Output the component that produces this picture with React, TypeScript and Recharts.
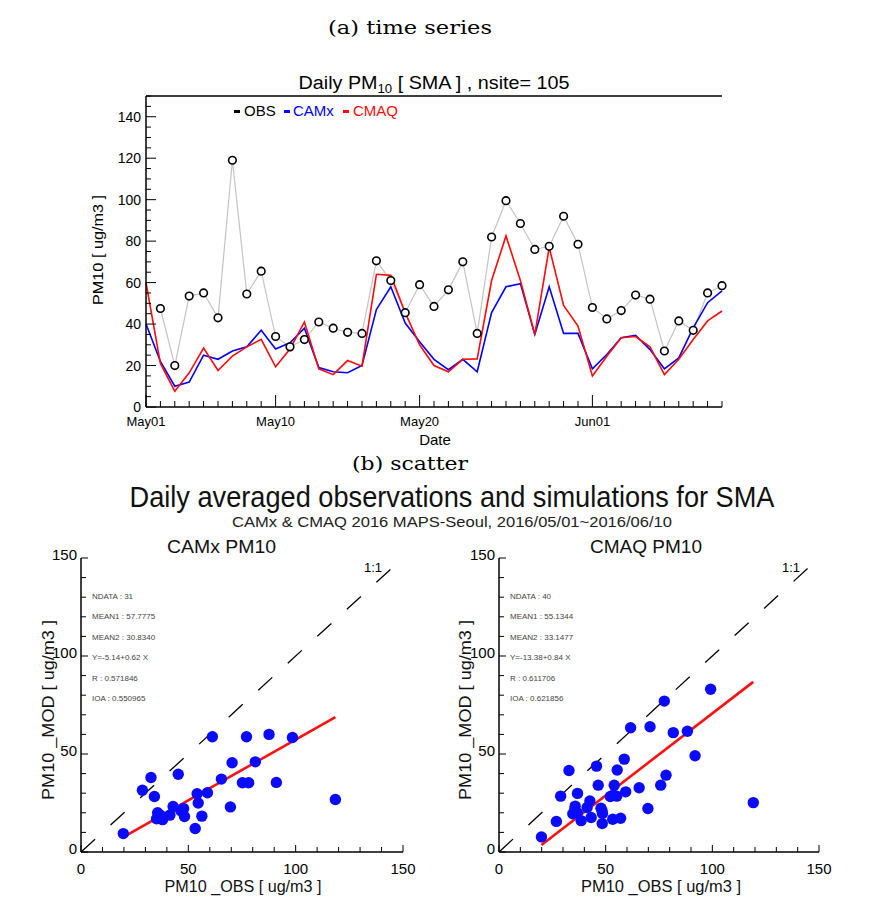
import React from 'react';
import {
  LineChart,
  Line,
  ComposedChart,
  Scatter,
  XAxis,
  YAxis,
  ReferenceLine,
} from 'recharts';

// daily PM10 (ug/m3), SMA mean of 105 sites, 2016-05-01 .. 2016-06-10
const dates = [
  'May01', 'May02', 'May03', 'May04', 'May05', 'May06', 'May07', 'May08', 'May09', 'May10',
  'May11', 'May12', 'May13', 'May14', 'May15', 'May16', 'May17', 'May18', 'May19', 'May20',
  'May21', 'May22', 'May23', 'May24', 'May25', 'May26', 'May27', 'May28', 'May29', 'May30',
  'May31', 'Jun01', 'Jun02', 'Jun03', 'Jun04', 'Jun05', 'Jun06', 'Jun07', 'Jun08', 'Jun09',
  'Jun10',
];
const majorDates = ['May01', 'May10', 'May20', 'Jun01'];

const obs = [
  null, 47.5, 20, 53.5, 55, 43, 119, 54.5, 65.5, 34, 29, 32.5, 41, 38, 36, 35.5, 70.5, 61,
  45.5, 59, 48.5, 56.5, 70, 35.5, 82, 99.5, 88.5, 76, 77.5, 92, 78.5, 48, 42.5, 46.5, 54, 52,
  27, 41.5, 37, 55, 58.5,
];
const camx = [
  40, 22, 10, 12, 25, 23, 27, 29, 37, 28, 31, 38, 19, 17, 16.5, 20, 47, 58, 40.5, 31.5, 23,
  18, 23, 17, 45.5, 58, 59.5, 35, 58, 35.5, 35.5, 18.4, 25.3, 33.4, 34.5, 27.7, 18.4, 23.7,
  38.2, 50.3, 56,
];
const cmaq = [
  60, 21, 7.6, 16.5, 28.4, 17.6, 24.5, 29, 32.6, 19.4, 28, 41, 18.4, 15.6, 22.4, 19.7, 64,
  63.5, 45.5, 30, 20, 17, 23, 23.2, 61, 82.5, 61, 35, 77, 49, 39, 15, 24.5, 33.4, 34, 29,
  15.6, 23, 32.6, 41.5, 46.3,
];
const tsTicks = [
  0, 5, 10, 15, 20, 25, 30, 35, 40, 45, 50, 55, 60, 65, 70, 75, 80, 85, 90, 95, 100, 105,
  110, 115, 120, 125, 130, 135, 140, 145, 150,
];

// scatter pairs [OBS, MOD]
const camxPairs = [
  [19.7, 9.4], [28.6, 31.5], [32.6, 38], [34.2, 28.3], [35.7, 20], [35.2, 17], [36.9, 18.8],
  [38, 16.5], [41.4, 18.8], [42.9, 23.2], [45.3, 39.7], [46.5, 21], [47.8, 22.2], [48.2, 18.1],
  [53.2, 12], [54.1, 29.7], [54.6, 25], [56.3, 18.3], [58.9, 30.2], [61.2, 58.8], [65.4, 37.2],
  [69.6, 23], [70.4, 45.5], [75.2, 35.3], [77.1, 58.8], [78.1, 35.3], [81.2, 46], [87.6, 60],
  [91, 35.5], [98.5, 58.4], [118.5, 26.8],
];
const cmaqPairs = [
  [19.9, 7.7], [26.9, 15.6], [28.9, 28.5], [32.8, 41.6], [34.6, 19.5], [35.5, 21.5], [35.7, 23.4],
  [36.7, 20], [36.8, 29.9], [38.5, 16], [41.3, 22.7], [42.6, 26], [43.2, 17.6], [45.7, 43.8],
  [46.5, 34.1], [47.8, 22.3], [48.3, 21], [48.5, 19.6], [48.4, 14.5], [52.2, 28.3], [53.3, 16.7],
  [53.8, 29], [54, 34.1], [55.2, 28.5], [55.4, 41.8], [57, 17.2], [58.7, 47.4], [59.4, 30.7],
  [61.7, 63.4], [65.7, 32.8], [69.8, 22.2], [70.8, 63.9], [75.8, 34.1], [77.5, 77], [78.3, 39.2],
  [81.7, 60.9], [88.3, 61.6], [91.9, 49.1], [99.2, 83], [119.2, 25.2],
];
const camxFit = [[19.7, 7.6], [118.5, 68.8]];
const cmaqFit = [[19.9, 3.6], [119.2, 86.8]];
const scTicks = [0, 10, 20, 30, 40, 50, 60, 70, 80, 90, 100, 110, 120, 130, 140, 150];

const camxStats = ['NDATA : 31', 'MEAN1 : 57.7775', 'MEAN2 : 30.8340', 'Y=-5.14+0.62 X', 'R : 0.571846', 'IOA : 0.550965'];
const cmaqStats = ['NDATA : 40', 'MEAN1 : 55.1344', 'MEAN2 : 33.1477', 'Y=-13.38+0.84 X', 'R : 0.611706', 'IOA : 0.621856'];

const tsData = dates.map((d, i) => ({ date: d, obs: obs[i], camx: camx[i], cmaq: cmaq[i] }));
const toXY = (a: number[][]) => a.map(([x, y]) => ({ x, y }));

const SANS = '"Liberation Sans", Arial, sans-serif';

// ---- tick renderers (ticks point into the plot, like IDL) ----
const TsBottomTick = (p: any) => {
  const major = majorDates.includes(p.payload.value);
  return (
    <g>
      <line x1={p.x} x2={p.x} y1={p.y} y2={p.y - (major ? 12 : 6)} stroke="#000" />
      {major && (
        <text x={p.x} y={p.y + 19} textAnchor="middle" fontSize={13} fill="#000">
          {p.payload.value}
        </text>
      )}
    </g>
  );
};
const TsLeftTick = (p: any) => {
  const v = p.payload.value;
  const major = v % 20 === 0;
  return (
    <g>
      <line x1={p.x} x2={p.x + (major ? 10 : 5)} y1={p.y} y2={p.y} stroke="#000" />
      {major && v <= 140 && (
        <text x={p.x - 5} y={p.y + 5} textAnchor="end" fontSize={14} fill="#000">
          {v}
        </text>
      )}
    </g>
  );
};
const TsRightTick = (p: any) => {
  const major = p.payload.value % 20 === 0;
  return <line x1={p.x} x2={p.x - (major ? 10 : 5)} y1={p.y} y2={p.y} stroke="#000" />;
};

const ScBottomTick = (p: any) => {
  const v = p.payload.value;
  const major = v % 50 === 0;
  return (
    <g>
      <line x1={p.x} x2={p.x} y1={p.y} y2={p.y - (major ? 7 : 5)} stroke="#000" />
      {major && (
        <text x={p.x} y={p.y + 22} textAnchor="middle" fontSize={15} fill="#000">
          {v}
        </text>
      )}
    </g>
  );
};
const ScTopTick = (p: any) => {
  const major = p.payload.value % 50 === 0;
  return <line x1={p.x} x2={p.x} y1={p.y} y2={p.y + (major ? 7 : 5)} stroke="#000" />;
};
const ScLeftTick = (p: any) => {
  const v = p.payload.value;
  const major = v % 50 === 0;
  return (
    <g>
      <line x1={p.x} x2={p.x + (major ? 7 : 5)} y1={p.y} y2={p.y} stroke="#000" />
      {major && (
        <text x={p.x - 4} y={p.y + 2} textAnchor="end" fontSize={15} fill="#000">
          {v}
        </text>
      )}
    </g>
  );
};
const ScRightTick = (p: any) => {
  const major = p.payload.value % 50 === 0;
  return <line x1={p.x} x2={p.x - (major ? 7 : 5)} y1={p.y} y2={p.y} stroke="#000" />;
};

const ObsDot = (p: any) => {
  if (p.value == null) return <g key={p.key} />;
  return <circle key={p.key} cx={p.cx} cy={p.cy} r={3.8} fill="#fff" stroke="#000" strokeWidth={1.6} />;
};
const BlueDot = (p: any) => <circle cx={p.cx} cy={p.cy} r={5.7} fill="#0a0aff" />;

function ScatterPanel({ pairs, fit, ml, mr, plotW }: { pairs: number[][]; fit: number[][]; ml: number; mr: number; plotW: number }) {
  return (
    <ComposedChart
      width={ml + mr + 40 + plotW}
      height={370}
      margin={{ top: 18, right: mr, bottom: 28, left: ml }}
    >
      <XAxis
        dataKey="x"
        type="number"
        domain={[0, 150]}
        ticks={scTicks}
        interval={0}
        tickSize={0}
        tickMargin={0}
        tickLine={false}
        tick={ScBottomTick}
        axisLine={{ stroke: '#000', strokeWidth: 1.5 }}
        height={30}
      />
      <XAxis
        xAxisId="top"
        orientation="top"
        dataKey="x"
        type="number"
        domain={[0, 150]}
        ticks={scTicks}
        interval={0}
        tickSize={0}
        tickMargin={0}
        tickLine={false}
        tick={ScTopTick}
        axisLine={{ stroke: '#000', strokeWidth: 1.5 }}
        height={0}
      />
      <YAxis
        dataKey="y"
        type="number"
        domain={[0, 150]}
        ticks={scTicks}
        interval={0}
        tickSize={0}
        tickMargin={0}
        tickLine={false}
        tick={ScLeftTick}
        axisLine={{ stroke: '#000', strokeWidth: 1.5 }}
        width={40}
      />
      <YAxis
        yAxisId="right"
        orientation="right"
        type="number"
        domain={[0, 150]}
        ticks={scTicks}
        interval={0}
        tickSize={0}
        tickMargin={0}
        tickLine={false}
        tick={ScRightTick}
        axisLine={{ stroke: '#000', strokeWidth: 1.5 }}
        width={0}
      />
      <ReferenceLine
        segment={[{ x: 0, y: 0 }, { x: 150, y: 150 }]}
        stroke="#000"
        strokeWidth={1.3}
        strokeDasharray="19 21"
      />
      <Scatter data={toXY(pairs)} shape={BlueDot} isAnimationActive={false} />
      <Line
        data={toXY(fit)}
        dataKey="y"
        stroke="#ff1010"
        strokeWidth={2.6}
        dot={false}
        isAnimationActive={false}
      />
    </ComposedChart>
  );
}

export default function App() {
  return (
    <div style={{ position: 'absolute', left: 0, top: 0, width: 885, height: 910, background: '#fff', fontFamily: SANS }}>
      <div style={{ position: 'absolute', left: 0, top: 0 }}>
        <LineChart width={885} height={470} data={tsData} margin={{ top: 96, right: 163, bottom: 33, left: 96 }}>
          <XAxis
            dataKey="date"
            interval={0}
            tickSize={0}
            tickMargin={0}
            tickLine={false}
            tick={TsBottomTick}
            axisLine={{ stroke: '#000', strokeWidth: 1.5 }}
            height={30}
          />
          <YAxis
            type="number"
            domain={[0, 150]}
            ticks={tsTicks}
            interval={0}
            tickSize={0}
            tickMargin={0}
            tickLine={false}
            tick={TsLeftTick}
            axisLine={{ stroke: '#000', strokeWidth: 1.5 }}
            width={50}
          />
          <YAxis
            yAxisId="right"
            orientation="right"
            type="number"
            domain={[0, 150]}
            ticks={tsTicks}
            interval={0}
            tickSize={0}
            tickMargin={0}
            tickLine={false}
            tick={TsRightTick}
            axisLine={{ stroke: '#000', strokeWidth: 1.5 }}
            width={0}
          />
          <ReferenceLine y={150} stroke="#000" strokeWidth={1.5} />
          <Line dataKey="obs" stroke="#c4c4c4" strokeWidth={1.2} dot={false} isAnimationActive={false} />
          <Line dataKey="camx" stroke="#0000ff" strokeWidth={1.6} dot={false} isAnimationActive={false} />
          <Line dataKey="cmaq" stroke="#ff0a0a" strokeWidth={1.6} dot={false} isAnimationActive={false} />
          <Line dataKey="obs" stroke="none" dot={ObsDot} activeDot={false} isAnimationActive={false} legendType="none" />
        </LineChart>
      </div>

      <div style={{ position: 'absolute', left: 0, top: 540 }}>
        <ScatterPanel pairs={camxPairs} fit={camxFit} ml={41} mr={37} plotW={322} />
      </div>
      <div style={{ position: 'absolute', left: 440, top: 540 }}>
        <ScatterPanel pairs={cmaqPairs} fit={cmaqFit} ml={19} mr={66} plotW={320} />
      </div>

      <svg width={885} height={910} style={{ position: 'absolute', left: 0, top: 0, pointerEvents: 'none' }}>
        <g fontFamily='"DejaVu Serif", "Liberation Serif", serif' fontSize={19} fill="#000" textAnchor="middle">
          <text x={410} y={34} textLength={164} lengthAdjust="spacingAndGlyphs">(a) time series</text>
          <text x={410} y={470} textLength={116} lengthAdjust="spacingAndGlyphs">(b) scatter</text>
        </g>

        {/* time series texts */}
        <text x={434} y={89} textAnchor="middle" fontSize={18} fill="#000" textLength={271} lengthAdjust="spacingAndGlyphs">
          Daily PM<tspan fontSize={12} dy={4}>10</tspan>
          <tspan dy={-4}> [ SMA ] , nsite= 105</tspan>
        </text>
        <g fontSize={15}>
          <rect x={234} y={110} width={6} height={3} fill="#000" />
          <text x={244} y={116} fill="#000">OBS</text>
          <rect x={284} y={110} width={6} height={3} fill="#0000ff" />
          <text x={293} y={116} fill="#0000ff">CAMx</text>
          <rect x={343} y={110} width={6} height={3} fill="#ff0a0a" />
          <text x={353} y={116} fill="#ff0a0a">CMAQ</text>
        </g>
        <text x={435} y={445} textAnchor="middle" fontSize={15} fill="#000">Date</text>
        <text
          x={0}
          y={0}
          transform="translate(103,250) rotate(-90)"
          textAnchor="middle"
          fontSize={15}
          fill="#000"
          textLength={110}
          lengthAdjust="spacingAndGlyphs"
        >
          PM10 [ ug/m3 ]
        </text>

        {/* scatter texts */}
        <text x={452} y={507} textAnchor="middle" fontSize={29} fill="#111" textLength={645} lengthAdjust="spacingAndGlyphs">
          Daily averaged observations and simulations for SMA
        </text>
        <text x={452} y={527} textAnchor="middle" fontSize={14} fill="#222" textLength={440} lengthAdjust="spacingAndGlyphs">
          CAMx &amp; CMAQ 2016 MAPS-Seoul, 2016/05/01~2016/06/10
        </text>
        <text x={221.5} y={553} textAnchor="middle" fontSize={19} fill="#111" textLength={109} lengthAdjust="spacingAndGlyphs">
          CAMx PM10
        </text>
        <text x={646} y={553} textAnchor="middle" fontSize={19} fill="#111" textLength={112} lengthAdjust="spacingAndGlyphs">
          CMAQ PM10
        </text>
        <text x={382} y={572} textAnchor="end" fontSize={13} fill="#000">1:1</text>
        <text x={800} y={572} textAnchor="end" fontSize={13} fill="#000">1:1</text>
        <g fontSize={8} fill="#444">
          {camxStats.map((s, i) => (
            <text key={'a' + i} x={92} y={599 + i * 20.4}>{s}</text>
          ))}
          {cmaqStats.map((s, i) => (
            <text key={'b' + i} x={510} y={599 + i * 20.4}>{s}</text>
          ))}
        </g>
        <g fontSize={16} fill="#111" textAnchor="middle">
          <text x={0} y={0} transform="translate(54,710) rotate(-90)" textLength={180} lengthAdjust="spacingAndGlyphs">
            PM10 _MOD [ ug/m3 ]
          </text>
          <text x={0} y={0} transform="translate(471,710) rotate(-90)" textLength={180} lengthAdjust="spacingAndGlyphs">
            PM10 _MOD [ ug/m3 ]
          </text>
          <text x={243} y={892} textLength={157} lengthAdjust="spacingAndGlyphs">PM10 _OBS [ ug/m3 ]</text>
          <text x={661} y={892} textLength={160} lengthAdjust="spacingAndGlyphs">PM10 _OBS [ ug/m3 ]</text>
        </g>
      </svg>
    </div>
  );
}
